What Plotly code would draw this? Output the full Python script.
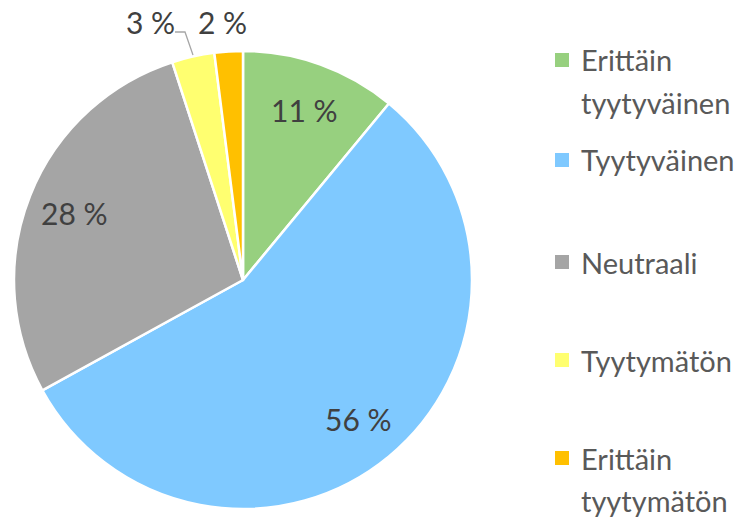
import math
import plotly.graph_objects as go

categories = ["Erittäin tyytyväinen", "Tyytyväinen", "Neutraali", "Tyytymätön", "Erittäin tyytymätön"]
legend_lines = [["Erittäin", "tyytyväinen"], ["Tyytyväinen"], ["Neutraali"], ["Tyytymätön"], ["Erittäin", "tyytymätön"]]
values = [11, 56, 28, 3, 2]
colors = ["#97D07F", "#7FC9FF", "#A5A5A5", "#FFFF70", "#FFC000"]

W, H = 754, 519
FONT = "Lato"
TXT = "#404040"

# pie geometry (pixels)
CX, CY, R = 243, 280, 229

fig = go.Figure(go.Pie(
    labels=categories, values=values, sort=False, direction="clockwise", rotation=0,
    marker=dict(colors=colors, line=dict(color="white", width=2.5)),
    textinfo="none",
    domain=dict(x=[(CX-R)/W, (CX+R)/W], y=[1-(CY+R)/H, 1-(CY-R)/H]),
    showlegend=False, hoverinfo="label+value",
))

annotations = []
total = sum(values)
cum = 0
small_pos = {3: (150, 22), 4: (222, 22)}
for i, v in enumerate(values):
    mid = (cum + v / 2) / total * 2 * math.pi
    cum += v
    if i in small_pos:
        px, py = small_pos[i]
    else:
        px = CX + 0.79 * R * math.sin(mid)
        py = CY - 0.79 * R * math.cos(mid)
    annotations.append(dict(x=px/W, y=1-py/H, xref="paper", yref="paper", text=f"{v} %",
                            showarrow=False, font=dict(family=FONT, size=30, color=TXT),
                            xanchor="center", yanchor="middle"))

shapes = [dict(type="path", xref="paper", yref="paper",
               path=f"M {175/W} {1-32/H} L {185/W} {1-32/H} L {193/W} {1-55/H}",
               line=dict(color="#A6A6A6", width=1.3))]

# legend
leg_y = [60, 160, 262, 360, 458]
LINE_H = 42
for lines, c, y in zip(legend_lines, colors, leg_y):
    shapes.append(dict(type="rect", xref="paper", yref="paper",
                       x0=555/W, x1=569/W, y0=1-(y+7)/H, y1=1-(y-7)/H,
                       fillcolor=c, line=dict(width=0)))
    for k, ln in enumerate(lines):
        annotations.append(dict(x=580/W, y=1-(y + k*LINE_H)/H, xref="paper", yref="paper", text=ln,
                                showarrow=False, align="left", xanchor="left", yanchor="middle",
                                borderpad=0,
                                font=dict(family=FONT, size=29, color="#595959")))

fig.update_layout(width=W, height=H, margin=dict(l=0, r=0, t=0, b=0),
                  paper_bgcolor="white", plot_bgcolor="white",
                  annotations=annotations, shapes=shapes)
fig.write_html("out.html", config={"displayModeBar": False},
               post_script="document.body.style.margin='0';document.body.style.padding='0';")
